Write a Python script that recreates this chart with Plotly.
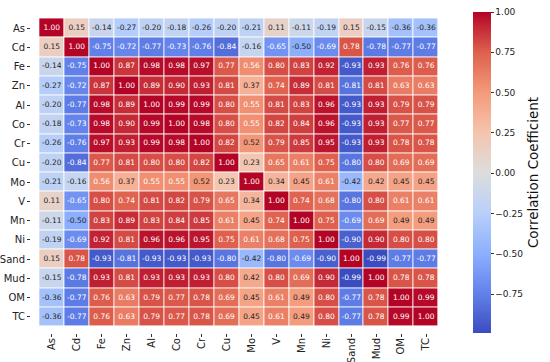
import plotly.graph_objects as go

labels = ["As", "Cd", "Fe", "Zn", "Al", "Co", "Cr", "Cu", "Mo", "V", "Mn", "Ni", "Sand", "Mud", "OM", "TC"]

r_As   = [1.00, 0.15, -0.14, -0.27, -0.20, -0.18, -0.26, -0.20, -0.21, 0.11, -0.11, -0.19, 0.15, -0.15, -0.36, -0.36]
r_Cd   = [0.15, 1.00, -0.75, -0.72, -0.77, -0.73, -0.76, -0.84, -0.16, -0.65, -0.50, -0.69, 0.78, -0.78, -0.77, -0.77]
r_Fe   = [-0.14, -0.75, 1.00, 0.87, 0.98, 0.98, 0.97, 0.77, 0.56, 0.80, 0.83, 0.92, -0.93, 0.93, 0.76, 0.76]
r_Zn   = [-0.27, -0.72, 0.87, 1.00, 0.89, 0.90, 0.93, 0.81, 0.37, 0.74, 0.89, 0.81, -0.81, 0.81, 0.63, 0.63]
r_Al   = [-0.20, -0.77, 0.98, 0.89, 1.00, 0.99, 0.99, 0.80, 0.55, 0.81, 0.83, 0.96, -0.93, 0.93, 0.79, 0.79]
r_Co   = [-0.18, -0.73, 0.98, 0.90, 0.99, 1.00, 0.98, 0.80, 0.55, 0.82, 0.84, 0.96, -0.93, 0.93, 0.77, 0.77]
r_Cr   = [-0.26, -0.76, 0.97, 0.93, 0.99, 0.98, 1.00, 0.82, 0.52, 0.79, 0.85, 0.95, -0.93, 0.93, 0.78, 0.78]
r_Cu   = [-0.20, -0.84, 0.77, 0.81, 0.80, 0.80, 0.82, 1.00, 0.23, 0.65, 0.61, 0.75, -0.80, 0.80, 0.69, 0.69]
r_Mo   = [-0.21, -0.16, 0.56, 0.37, 0.55, 0.55, 0.52, 0.23, 1.00, 0.34, 0.45, 0.61, -0.42, 0.42, 0.45, 0.45]
r_V    = [0.11, -0.65, 0.80, 0.74, 0.81, 0.82, 0.79, 0.65, 0.34, 1.00, 0.74, 0.68, -0.80, 0.80, 0.61, 0.61]
r_Mn   = [-0.11, -0.50, 0.83, 0.89, 0.83, 0.84, 0.85, 0.61, 0.45, 0.74, 1.00, 0.75, -0.69, 0.69, 0.49, 0.49]
r_Ni   = [-0.19, -0.69, 0.92, 0.81, 0.96, 0.96, 0.95, 0.75, 0.61, 0.68, 0.75, 1.00, -0.90, 0.90, 0.80, 0.80]
r_Sand = [0.15, 0.78, -0.93, -0.81, -0.93, -0.93, -0.93, -0.80, -0.42, -0.80, -0.69, -0.90, 1.00, -0.99, -0.77, -0.77]
r_Mud  = [-0.15, -0.78, 0.93, 0.81, 0.93, 0.93, 0.93, 0.80, 0.42, 0.80, 0.69, 0.90, -0.99, 1.00, 0.78, 0.78]
r_OM   = [-0.36, -0.77, 0.76, 0.63, 0.79, 0.77, 0.78, 0.69, 0.45, 0.61, 0.49, 0.80, -0.77, 0.78, 1.00, 0.99]
r_TC   = [-0.36, -0.77, 0.76, 0.63, 0.79, 0.77, 0.78, 0.69, 0.45, 0.61, 0.49, 0.80, -0.77, 0.78, 0.99, 1.00]

matrix = [r_As, r_Cd, r_Fe, r_Zn, r_Al, r_Co, r_Cr, r_Cu, r_Mo, r_V, r_Mn, r_Ni, r_Sand, r_Mud, r_OM, r_TC]

cbar_ticks = [-0.75, -0.5, -0.25, 0.0, 0.25, 0.5, 0.75, 1.0]

ZMIN, ZMAX = -0.99, 1.00

coolwarm = [
    (0.0, (59, 76, 192)),
    (0.125, (98, 130, 234)),
    (0.25, (141, 176, 254)),
    (0.375, (185, 208, 249)),
    (0.5, (221, 221, 221)),
    (0.625, (245, 196, 173)),
    (0.75, (244, 154, 123)),
    (0.875, (222, 96, 77)),
    (1.0, (180, 4, 38)),
]
colorscale = [[p, f"rgb{c}"] for p, c in coolwarm]


def color_at(v):
    t = (v - ZMIN) / (ZMAX - ZMIN)
    t = min(max(t, 0), 1)
    for (p0, c0), (p1, c1) in zip(coolwarm[:-1], coolwarm[1:]):
        if t <= p1:
            f = (t - p0) / (p1 - p0) if p1 > p0 else 0
            return tuple(c0[i] + f * (c1[i] - c0[i]) for i in range(3))
    return coolwarm[-1][1]


def lum(rgb):
    out = []
    for c in rgb:
        c = c / 255
        out.append(c / 12.92 if c <= 0.03928 else ((c + 0.055) / 1.055) ** 2.4)
    return 0.2126 * out[0] + 0.7152 * out[1] + 0.0722 * out[2]


fig = go.Figure()
fig.add_trace(go.Heatmap(
    z=matrix, x=labels, y=labels,
    colorscale=colorscale, zmin=ZMIN, zmax=ZMAX,
    xgap=1, ygap=1,
    hoverinfo="skip",
    colorbar=dict(
        x=1.0625, xanchor="left", xpad=0,
        y=0.5, yanchor="middle", ypad=0,
        len=1.0, lenmode="fraction", thickness=18,
        outlinewidth=0,
        tickvals=cbar_ticks, tickformat=".2f",
        ticks="outside", ticklen=3, tickcolor="#333",
        tickfont=dict(family="DejaVu Sans", size=9, color="#222"),
        title=dict(text="Correlation Coefficient", side="right",
                   font=dict(family="DejaVu Sans", size=13.5, color="#111")),
    ),
))

xs, ys, txt, cols = [], [], [], []
for i, row_name in enumerate(labels):
    for j, col_name in enumerate(labels):
        v = matrix[i][j]
        xs.append(col_name)
        ys.append(row_name)
        txt.append(f"{v:.2f}")
        cols.append("white" if lum(color_at(v)) <= 0.408 else "#262626")

fig.add_trace(go.Scatter(
    x=xs, y=ys, mode="text", text=txt,
    textfont=dict(family="DejaVu Sans", size=7.5, color=cols),
    hoverinfo="skip", showlegend=False,
))

fig.update_xaxes(
    type="category", categoryorder="array", categoryarray=labels,
    tickangle=-90, ticks="outside", ticklen=3, tickcolor="#333",
    ticklabelstandoff=-3,
    tickfont=dict(family="DejaVu Sans", size=10, color="#222"),
    showgrid=False, zeroline=False, showline=False, automargin=False,
)
fig.update_yaxes(
    type="category", categoryorder="array", categoryarray=labels,
    autorange="reversed", ticks="outside", ticklen=3, tickcolor="#333",
    ticklabelstandoff=0,
    tickfont=dict(family="DejaVu Sans", size=10, color="#222"),
    showgrid=False, zeroline=False, showline=False, automargin=False,
)

fig.update_layout(
    width=550, height=362,
    margin=dict(l=31, r=103, t=12, b=29, autoexpand=False),
    paper_bgcolor="white", plot_bgcolor="white",
    showlegend=False,
)

# remove the browser's default 8px body margin so the figure fills the window
fig.write_html(
    "out.html",
    config={"displayModeBar": False},
    post_script="document.body.style.margin='0px';",
)
